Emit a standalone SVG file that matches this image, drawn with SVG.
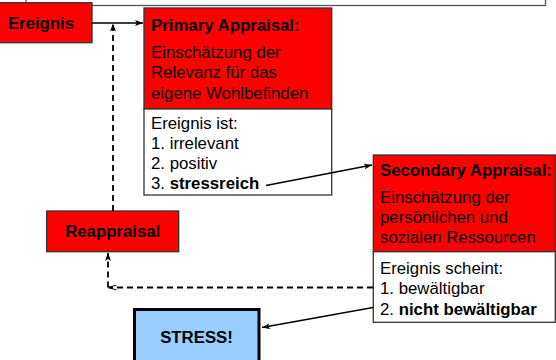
<svg xmlns="http://www.w3.org/2000/svg" width="556" height="360" viewBox="0 0 556 360">
<style>
text{font-family:"Liberation Sans",Arial,sans-serif;font-size:16.8px;fill:#000}
.b{font-weight:bold}
.red{fill:#ff0000;stroke:#333;stroke-width:1.3}
.wh{fill:#fff;stroke:#333;stroke-width:1.3}
.ln{fill:none;stroke:#000;stroke-width:1.4}
.dash{fill:none;stroke:#000;stroke-width:1.8;stroke-dasharray:6 4}
</style>
<defs>
<marker id="ah" markerWidth="8" markerHeight="6" refX="8" refY="3" orient="auto" markerUnits="userSpaceOnUse">
<path d="M0,0 L8,3 L0,6 L2,3 Z" fill="#000"/>
</marker>
<marker id="ao" markerWidth="8" markerHeight="6" refX="8" refY="3" orient="auto" markerUnits="userSpaceOnUse">
<path d="M0,0.5 L8,3 L0,5.5" fill="none" stroke="#000" stroke-width="1"/>
</marker>
</defs>
<g id="topframe"><rect x="26" y="-40" width="519.5" height="45.5" fill="none" stroke="#555" stroke-width="1.3"/></g>
<g id="ereignis">
<rect class="red" x="-10" y="2.7" width="102" height="40"/>
<text class="b" x="41" y="28.5" text-anchor="middle">Ereignis</text>
</g>
<g id="primary">
<rect class="red" x="144" y="8" width="187.7" height="101"/>
<rect class="wh" x="144" y="109" width="187.7" height="86"/>
<text class="b" x="151" y="30.7">Primary Appraisal:</text>
<text x="151" y="57.7">Einschätzung der</text>
<text x="151" y="78">Relevanz für das</text>
<text x="151" y="98.5">eigene Wohlbefinden</text>
<text x="151" y="129.3">Ereignis ist:</text>
<text x="151" y="149.2">1. irrelevant</text>
<text x="151" y="169">2. positiv</text>
<text x="151" y="189">3. <tspan class="b">stressreich</tspan></text>
</g>
<g id="secondary">
<rect class="red" x="373.3" y="155" width="182" height="96.7"/>
<rect class="wh" x="373.3" y="251.7" width="182" height="70.6"/>
<text class="b" x="380" y="175.7">Secondary Appraisal:</text>
<text x="380" y="203.3">Einschätzung der</text>
<text x="380" y="223.3">persönlichen und</text>
<text x="380" y="243">sozialen Ressourcen</text>
<text x="380" y="274.3">Ereignis scheint:</text>
<text x="380" y="294.3">1. bewältigbar</text>
<text x="380" y="315">2. <tspan class="b">nicht bewältigbar</tspan></text>
</g>
<g id="reappraisal">
<rect class="red" x="46.7" y="211" width="132" height="40.7"/>
<text class="b" x="112.7" y="236.7" text-anchor="middle">Reappraisal</text>
</g>
<g id="stress">
<rect x="134.5" y="309.5" width="124.5" height="60" fill="#99ccff" stroke="#000" stroke-width="3"/>
<text class="b" x="196.5" y="343.3" text-anchor="middle">STRESS!</text>
</g>
<g id="connectors">
<line class="ln" x1="92" y1="23" x2="143" y2="23" marker-end="url(#ah)"/>
<line class="dash" x1="113" y1="211" x2="113" y2="23.5" marker-end="url(#ah)"/>
<line class="dash" x1="373" y1="287.5" x2="108.5" y2="287.5" marker-end="url(#ao)"/>
<line class="dash" x1="108" y1="287.5" x2="108" y2="253" marker-end="url(#ah)"/>
<line class="ln" x1="266" y1="185.5" x2="372" y2="165" marker-end="url(#ah)"/>
<line class="ln" x1="373" y1="307.5" x2="262" y2="327.5" marker-end="url(#ah)"/>
</g>
</svg>
